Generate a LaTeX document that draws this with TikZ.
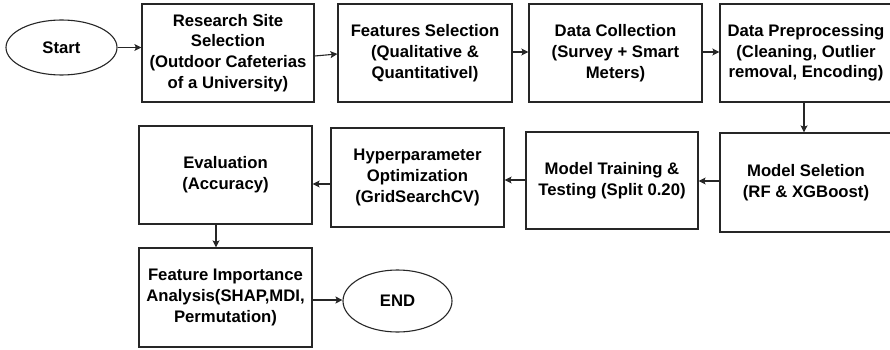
\documentclass[tikz,border=0pt]{standalone}
\usepackage{fontspec}
\setmainfont{Liberation Sans}
\usetikzlibrary{arrows.meta,shapes.geometric}
\begin{document}
\begin{tikzpicture}[x=1pt,y=-1pt,
  every node/.style={font=\fontsize{16.7}{20.7}\selectfont\bfseries, align=center, inner sep=0pt},
  box/.style={draw=black!85, line width=1.2pt, rectangle, minimum width=#1},
  box/.default=173pt,
  oval/.style={draw=black!85, line width=1.1pt, ellipse},
  conn/.style={draw=black!85, line width=1.1pt, -{Stealth[length=7pt,width=7pt,inset=1.5pt]}}]
\useasboundingbox (0,0) rectangle (890,350);
% top row
\node[oval, minimum width=111pt, minimum height=55pt] (S) at (61.5,47.5) {Start};
\node[box=172pt, minimum height=98pt] (R) at (228,53) {Research Site\\Selection\\(Outdoor Cafeterias\\of a University)};
\node[box=174pt, minimum height=98pt] (F) at (425,53) {Features Selection\\(Qualitative \&\\Quantitativel)};
\node[box=173pt, minimum height=98pt] (DC) at (615.5,53) {Data Collection\\(Survey + Smart\\Meters)};
\node[box=172pt, minimum height=98pt] (DP) at (806,53) {Data Preprocessing\\(Cleaning, Outlier\\removal, Encoding)};
% second row
\node[box=172pt, minimum height=99pt] (MS) at (806,182.5) {Model Seletion\\(RF \& XGBoost)};
\node[box=172pt, minimum height=97pt] (MT) at (612,180.5) {Model Training \&\\Testing (Split 0.20)};
\node[box=173pt, minimum height=99pt] (HO) at (417.5,177.5) {Hyperparameter\\Optimization\\(GridSearchCV)};
\node[box=173pt, minimum height=98pt] (E) at (225.5,175) {Evaluation\\(Accuracy)};
% third row
\node[box=173pt, minimum height=99pt] (FI) at (225.5,297.5) {Feature Importance\\Analysis(SHAP,MDI,\\Permutation)};
\node[oval, minimum width=109pt, minimum height=62pt] (END) at (397.5,301) {END};
% connectors
\draw[conn] (S.east) -- (R.west |- S.east);
\draw[conn] ([yshift=-3pt]R.east) -- ([yshift=-1pt]F.west);
\draw[conn] ([yshift=1pt]F.east) -- ([yshift=1pt]DC.west);
\draw[conn] ([yshift=1pt]DC.east) -- ([yshift=1pt]DP.west);
\draw[conn] ([xshift=-2pt]DP.south) -- ([xshift=-2pt]DP.south |- MS.north);
\draw[conn] ([yshift=1.5pt]MS.west) -- ([yshift=1.5pt]MS.west -| MT.east);
\draw[conn] ([yshift=0.5pt]MT.west) -- ([yshift=0.5pt]MT.west -| HO.east);
\draw[conn] ([yshift=-6.5pt]HO.west) -- ([yshift=-6.5pt]HO.west -| E.east);
\draw[conn] ([xshift=-9.5pt]E.south) -- ([xshift=-9.5pt]FI.north);
\draw[conn] ([yshift=-2.5pt]FI.east) -- ([yshift=-2.5pt]FI.east -| END.west);
\end{tikzpicture}
\end{document}
